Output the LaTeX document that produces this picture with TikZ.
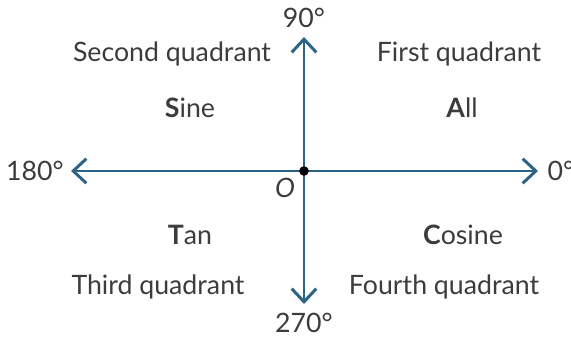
\documentclass[tikz,border=0pt]{standalone}
\usepackage{fontspec}
\setmainfont{Lato}
\usetikzlibrary{arrows.meta}
\definecolor{axisblue}{RGB}{43,100,133}
\definecolor{labelgray}{RGB}{60,60,60}
\begin{document}
\begin{tikzpicture}[
        x=0.02cm, y=-0.02cm,
        axis/.style={draw=axisblue, line width=1.7pt, -{Straight Barb[length=7.5pt, width=14pt, line width=1.7pt]}},
        label/.style={text=labelgray, font=\fontsize{15.2}{18}\selectfont, inner sep=0pt},
        dot/.style={circle, fill=black, inner sep=0pt, minimum size=5.5pt}
    ]
        % Frame
        \useasboundingbox (0,0) rectangle (571,337);

        % Axes
        \coordinate (origin) at (304,171);
        \coordinate (east) at (538,171);
        \coordinate (west) at (71,171);
        \coordinate (north) at (304,37);
        \coordinate (south) at (304,304);
        \draw[axis] (origin) -- (east);
        \draw[axis] (origin) -- (west);
        \draw[axis] (origin) -- (north);
        \draw[axis] (origin) -- (south);
        \node[dot] (centre) at (origin) {};
        \node[label] (o) at (285,188) {\textit{O}};

        % Angles
        \node[label] (deg0) at (561,171) {0°};
        \node[label] (deg90) at (304,18) {90°};
        \node[label] (deg180) at (35,171) {180°};
        \node[label] (deg270) at (304,323) {270°};

        % Quadrants
        \node[label] (second) at (172,54) {Second quadrant};
        \node[label] (first) at (459,54) {First quadrant};
        \node[label] (third) at (158,287) {Third quadrant};
        \node[label] (fourth) at (444,287) {Fourth quadrant};

        % Ratios
        \node[label] (sine) at (190,108) {\textbf{S}ine};
        \node[label] (all) at (462,108) {\textbf{A}ll};
        \node[label] (tan) at (190,235) {\textbf{T}an};
        \node[label] (cosine) at (463,235) {\textbf{C}osine};
    \end{tikzpicture}
\end{document}
